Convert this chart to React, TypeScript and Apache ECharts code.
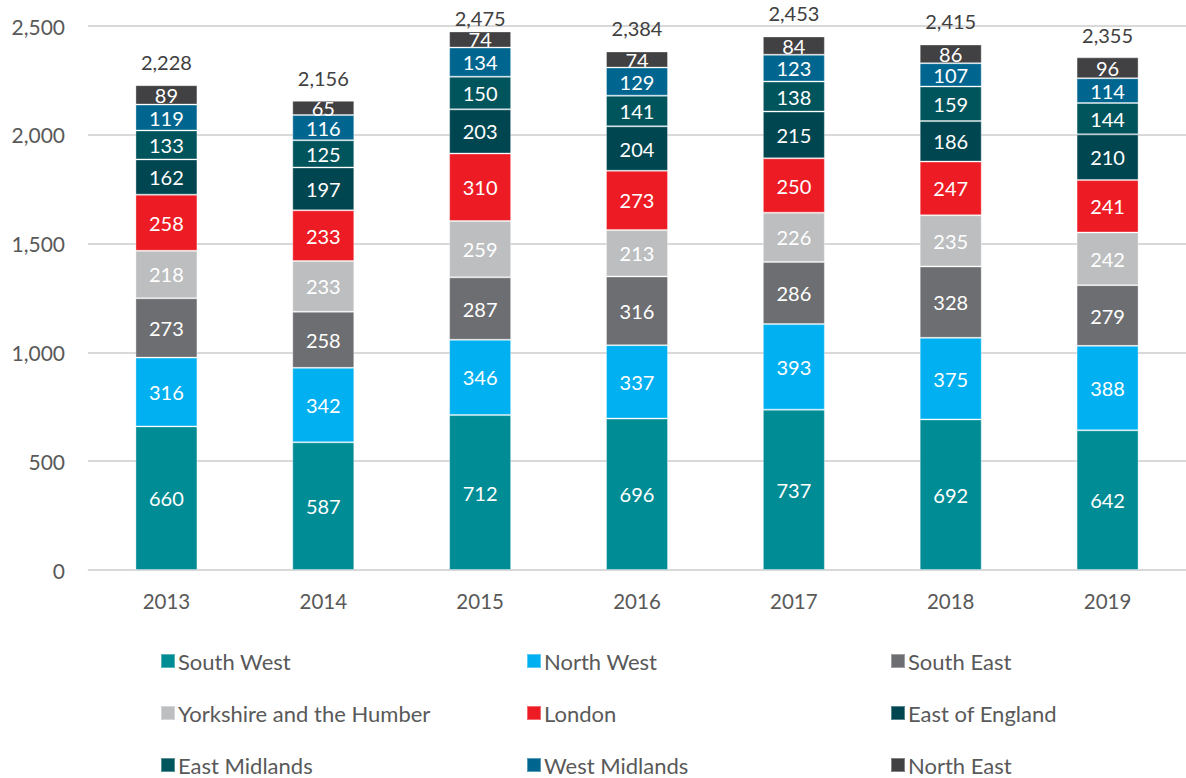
import React, { useEffect, useRef } from "react";
import * as echarts from "echarts";

const years = ["2013", "2014", "2015", "2016", "2017", "2018", "2019"];
const southWest = [660, 587, 712, 696, 737, 692, 642];
const northWest = [316, 342, 346, 337, 393, 375, 388];
const southEast = [273, 258, 287, 316, 286, 328, 279];
const yorkshire = [218, 233, 259, 213, 226, 235, 242];
const london = [258, 233, 310, 273, 250, 247, 241];
const eastOfEngland = [162, 197, 203, 204, 215, 186, 210];
const eastMidlands = [133, 125, 150, 141, 138, 159, 144];
const westMidlands = [119, 116, 134, 129, 123, 107, 114];
const northEast = [89, 65, 74, 74, 84, 86, 96];
const totals = [2228, 2156, 2475, 2384, 2453, 2415, 2355];
const yTicks = [0, 500, 1000, 1500, 2000, 2500];

const seriesDefs = [
  { name: "South West", data: southWest, color: "#008C95" },
  { name: "North West", data: northWest, color: "#00B0F0" },
  { name: "South East", data: southEast, color: "#6D6E71" },
  { name: "Yorkshire and the Humber", data: yorkshire, color: "#BCBEC0" },
  { name: "London", data: london, color: "#ED1C24" },
  { name: "East of England", data: eastOfEngland, color: "#004650" },
  { name: "East Midlands", data: eastMidlands, color: "#00545C" },
  { name: "West Midlands", data: westMidlands, color: "#00668F" },
  { name: "North East", data: northEast, color: "#414042" },
];

const FONT = "Lato, 'Open Sans', sans-serif";
const legendCols = [155, 521, 885];
const legendRows = [645, 697, 749];

export default function App() {
  const ref = useRef<HTMLDivElement>(null);
  useEffect(() => {
    if (!ref.current) return;
    const chart = echarts.init(ref.current, undefined, { renderer: "svg" });
    const legends = seriesDefs.map((s, i) => ({
      data: [s.name],
      left: legendCols[i % 3],
      top: legendRows[Math.floor(i / 3)],
      itemWidth: 14,
      itemHeight: 14,
      itemGap: 4,
      icon: "rect",
      selectedMode: false,
      textStyle: { fontFamily: FONT, fontSize: 22, color: "#595959", padding: [0, 0, 0, -2] },
    }));
    const bars: any[] = seriesDefs.map((s) => ({
      name: s.name,
      type: "bar",
      stack: "total",
      data: s.data,
      barWidth: 62,
      itemStyle: { color: s.color, borderColor: "rgba(255,255,255,0.35)", borderWidth: 1 },
      label: {
        show: true,
        position: "inside",
        color: "#ffffff",
        fontFamily: FONT,
        fontSize: 20,
      },
    }));
    const topValue = Math.max(...totals);
    bars.push({
      name: "Total",
      type: "bar",
      data: totals.map((v) => ({ value: v, label: { distance: v === topValue ? 3 : 13 } })),
      barWidth: 62,
      barGap: "-100%",
      z: 0,
      silent: true,
      itemStyle: { color: "rgba(0,0,0,0)" },
      label: {
        show: true,
        position: "top",
        color: "#404040",
        fontFamily: FONT,
        fontSize: 20,
        formatter: (p: any) => p.value.toLocaleString("en-US"),
      },
    });
    chart.setOption({
      animation: false,
      legend: legends,
      grid: { left: 88, top: 26, width: 1103, height: 544, containLabel: false },
      xAxis: {
        type: "category",
        data: years,
        axisTick: { show: false },
        axisLine: { lineStyle: { color: "#d9d9d9", width: 1 } },
        axisLabel: { fontFamily: FONT, fontSize: 20.5, color: "#595959", margin: 20 },
      },
      yAxis: {
        type: "value",
        min: yTicks[0],
        max: yTicks[yTicks.length - 1],
        interval: 500,
        axisLine: { show: false },
        axisTick: { show: false },
        splitLine: { lineStyle: { color: "#d9d9d9", width: 2 } },
        axisLabel: {
          fontFamily: FONT,
          fontSize: 21,
          color: "#595959",
          margin: 23,
          formatter: (v: number) => v.toLocaleString("en-US"),
        },
      },
      series: bars,
    });
    return () => chart.dispose();
  }, []);
  return (
    <div
      ref={ref}
      style={{ position: "fixed", left: 0, top: 0, width: 1186, height: 778, background: "#fff" }}
    />
  );
}
